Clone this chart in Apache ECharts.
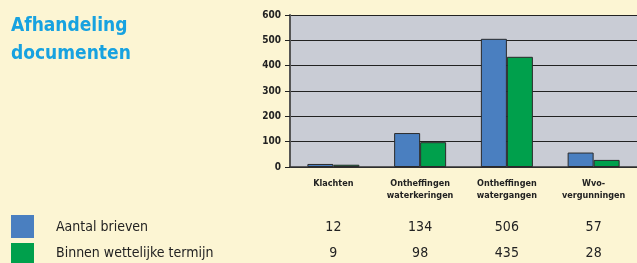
<!DOCTYPE html>
<html>
<head>
  <meta charset="utf-8">
  <title>Afhandeling documenten</title>
  <script src="https://cdn.jsdelivr.net/npm/echarts@6/dist/echarts.min.js"></script>
  <style>
    html, body { margin: 0; padding: 0; background: #fcf5d3; }
    #chart { width: 637px; height: 263px; }
  </style>
</head>
<body>
<div id="chart"></div>
<script>
  // categorieen en waarden
  var categories = ['Klachten', 'Ontheffingen\nwaterkeringen', 'Ontheffingen\nwatergangen', 'Wvo-\nvergunningen'];
  var seriesNames = ['Aantal brieven', 'Binnen wettelijke termijn'];
  var aantalBrieven = [12, 134, 506, 57];
  var binnenTermijn = [9, 98, 435, 28];
  var yTicks = [0, 100, 200, 300, 400, 500, 600];
  var colors = ['#4a7fc0', '#00a04c'];

  var font = '"DejaVu Sans Condensed", "Liberation Sans Narrow", sans-serif';
  var chart = echarts.init(document.getElementById('chart'));

  chart.setOption({
    backgroundColor: '#fcf5d3',
    animation: false,
    title: {
      text: 'Afhandeling\ndocumenten',
      left: 6, top: 7,
      textStyle: { color: '#17a2e0', fontFamily: font, fontWeight: 'bold', fontSize: 19, lineHeight: 28 }
    },
    grid: {
      left: 290, top: 15, height: 152, right: -4,
      show: true, backgroundColor: '#c9ccd5', borderWidth: 0
    },
    xAxis: {
      type: 'category',
      data: categories,
      axisLine: { lineStyle: { color: '#333', width: 1.5 } },
      axisTick: { show: false },
      axisLabel: { fontFamily: font, fontWeight: 'bold', fontSize: 9, lineHeight: 12, color: '#222', margin: 11 }
    },
    yAxis: {
      type: 'value',
      min: yTicks[0], max: yTicks[yTicks.length - 1], interval: 100,
      axisLine: { show: true, lineStyle: { color: '#555', width: 2 } },
      axisTick: { show: true, length: 5, lineStyle: { color: '#222' } },
      axisLabel: { fontFamily: font, fontWeight: 'bold', fontSize: 10, color: '#222', margin: 9 },
      splitLine: { lineStyle: { color: '#222', width: 1.2 } }
    },
    series: [
      {
        name: seriesNames[0], type: 'bar', data: aantalBrieven,
        barWidth: 26, barGap: '0%',
        itemStyle: { color: colors[0], borderColor: '#2a2a2a', borderWidth: 1 }
      },
      {
        name: seriesNames[1], type: 'bar', data: binnenTermijn,
        barWidth: 26,
        itemStyle: { color: colors[1], borderColor: '#2a2a2a', borderWidth: 1 }
      }
    ]
  });

  // tabel met waarden onder de categorieen, plus legenda-vlakjes
  var rows = [aantalBrieven, binnenTermijn];
  var rowY = [227, 253];
  var boxTop = [215, 243];
  var els = [];
  rows.forEach(function (row, r) {
    els.push({
      type: 'rect', shape: { x: 11, y: boxTop[r], width: 23, height: 23 },
      style: { fill: colors[r] }
    });
    els.push({
      type: 'text', x: 56, y: rowY[r],
      style: { text: seriesNames[r], fontFamily: font, fontSize: 14, fill: '#222', verticalAlign: 'middle' }
    });
    row.forEach(function (v, i) {
      var x = chart.convertToPixel({ xAxisIndex: 0 }, i);
      els.push({
        type: 'text', x: x, y: rowY[r],
        style: { text: String(v), fontFamily: font, fontSize: 14, fill: '#222', align: 'center', verticalAlign: 'middle' }
      });
    });
  });
  chart.setOption({ graphic: els });
</script>
</body>
</html>
